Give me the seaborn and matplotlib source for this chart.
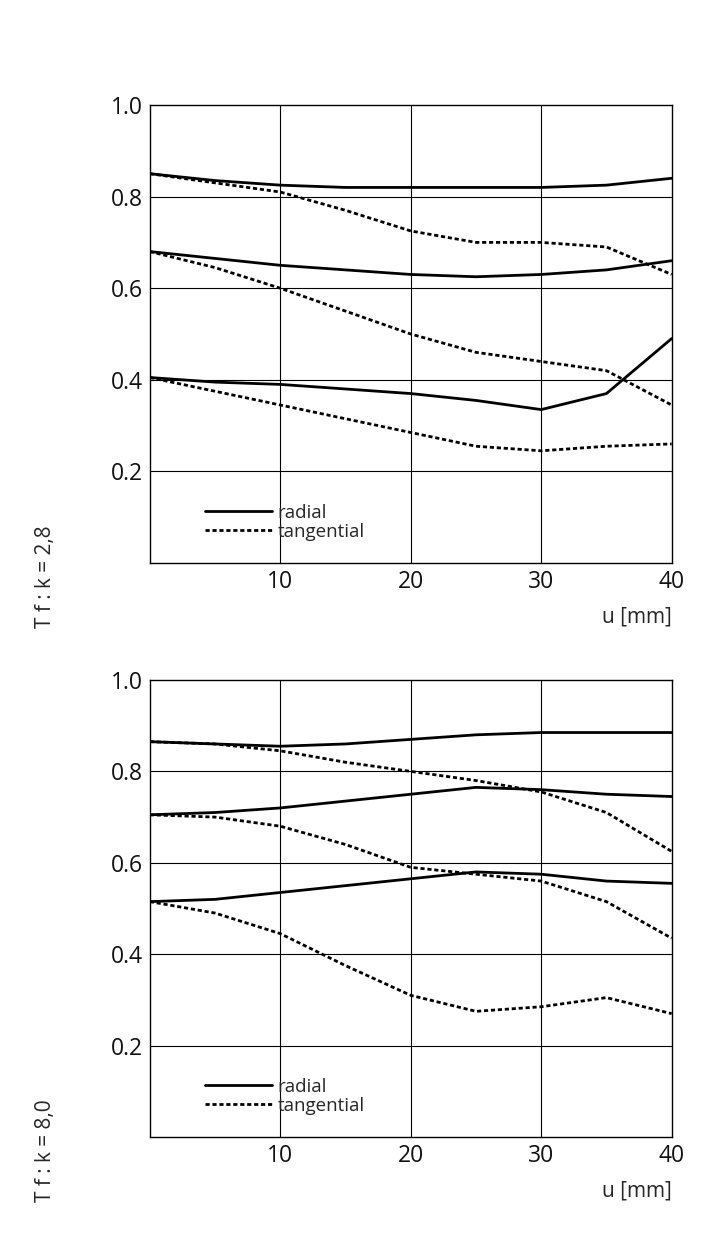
import numpy as np
import pandas as pd
import matplotlib
matplotlib.use("Agg")
import matplotlib.pyplot as plt
import seaborn as sns
from matplotlib.lines import Line2D

u = [0, 5, 10, 15, 20, 25, 30, 35, 40]

# f/2.8
top_radial = [
    [0.85, 0.835, 0.825, 0.82, 0.82, 0.82, 0.82, 0.825, 0.84],
    [0.68, 0.665, 0.65, 0.64, 0.63, 0.625, 0.63, 0.64, 0.66],
    [0.405, 0.395, 0.39, 0.38, 0.37, 0.355, 0.335, 0.37, 0.49],
]
top_tangential = [
    [0.85, 0.83, 0.81, 0.77, 0.725, 0.70, 0.70, 0.69, 0.63],
    [0.68, 0.645, 0.60, 0.55, 0.50, 0.46, 0.44, 0.42, 0.345],
    [0.405, 0.375, 0.345, 0.315, 0.285, 0.255, 0.245, 0.255, 0.26],
]
# f/8.0
bot_radial = [
    [0.865, 0.86, 0.855, 0.86, 0.87, 0.88, 0.885, 0.885, 0.885],
    [0.705, 0.71, 0.72, 0.735, 0.75, 0.765, 0.76, 0.75, 0.745],
    [0.515, 0.52, 0.535, 0.55, 0.565, 0.58, 0.575, 0.56, 0.555],
]
bot_tangential = [
    [0.865, 0.86, 0.845, 0.82, 0.80, 0.78, 0.755, 0.71, 0.625],
    [0.705, 0.70, 0.68, 0.64, 0.59, 0.575, 0.56, 0.515, 0.435],
    [0.515, 0.49, 0.445, 0.375, 0.31, 0.275, 0.285, 0.305, 0.27],
]
panel_labels = ["T f : k = 2,8", "T f : k = 8,0"]

sns.set_style("white")
plt.rcParams['font.family'] = ['Open Sans', 'DejaVu Sans']

fig = plt.figure(figsize=(7.1, 12.44), dpi=100)
axes = [fig.add_axes([0.211, 0.5474, 0.735, 0.3682]),
        fig.add_axes([0.211, 0.086, 0.735, 0.3674])]

def make_df(radial, tangential):
    rows = []
    for i, (r, t) in enumerate(zip(radial, tangential)):
        for x, y in zip(u, r):
            rows.append(dict(u=x, mtf=y, kind="radial", curve="r%d" % i))
        for x, y in zip(u, t):
            rows.append(dict(u=x, mtf=y, kind="tangential", curve="t%d" % i))
    return pd.DataFrame(rows)

for ax, (rad, tan), label in zip(axes, [(top_radial, top_tangential), (bot_radial, bot_tangential)], panel_labels):
    df = make_df(rad, tan)
    for name, g in df.groupby("curve"):
        ls = "-" if name.startswith("r") else (0, (1.5, 1))
        sns.lineplot(data=g, x="u", y="mtf", ax=ax, color="black", lw=2.0, linestyle=ls, legend=False)
    ax.set_xlim(0, 40)
    ax.set_ylim(0, 1.0)
    ax.set_xticks([10, 20, 30, 40])
    ax.set_yticks([0.2, 0.4, 0.6, 0.8, 1.0])
    ax.set_yticklabels(["0.2", "0.4", "0.6", "0.8", "1.0"])
    for y in [0.2, 0.4, 0.6, 0.8]:
        ax.axhline(y, color="black", lw=0.8, zorder=0)
    for x in [10, 20, 30]:
        ax.axvline(x, color="black", lw=0.8, zorder=0)
    for s in ax.spines.values():
        s.set_color("black")
        s.set_linewidth(1.0)
    ax.tick_params(length=0, labelsize=16.5, pad=5, labelcolor="#111111")
    ax.set_xlabel("")
    ax.set_ylabel("")
    ax.text(1.0, -0.095, "u [mm]", transform=ax.transAxes, ha="right", va="top", fontsize=15)
    ax.text(-0.2, -0.03, label, transform=ax.transAxes, rotation=90, ha="center", va="center", fontsize=15)
    handles = [Line2D([], [], color="black", lw=2.0),
               Line2D([], [], color="black", lw=2.0, linestyle=(0, (1.5, 1)))]
    ax.legend(handles, ["radial", "tangential"], loc="lower left", bbox_to_anchor=(0.08, 0.02),
              frameon=False, fontsize=13.5, handlelength=3.6, handletextpad=0.3,
              labelspacing=0.05, borderaxespad=0.3)

fig.savefig("out.png", dpi=100)
